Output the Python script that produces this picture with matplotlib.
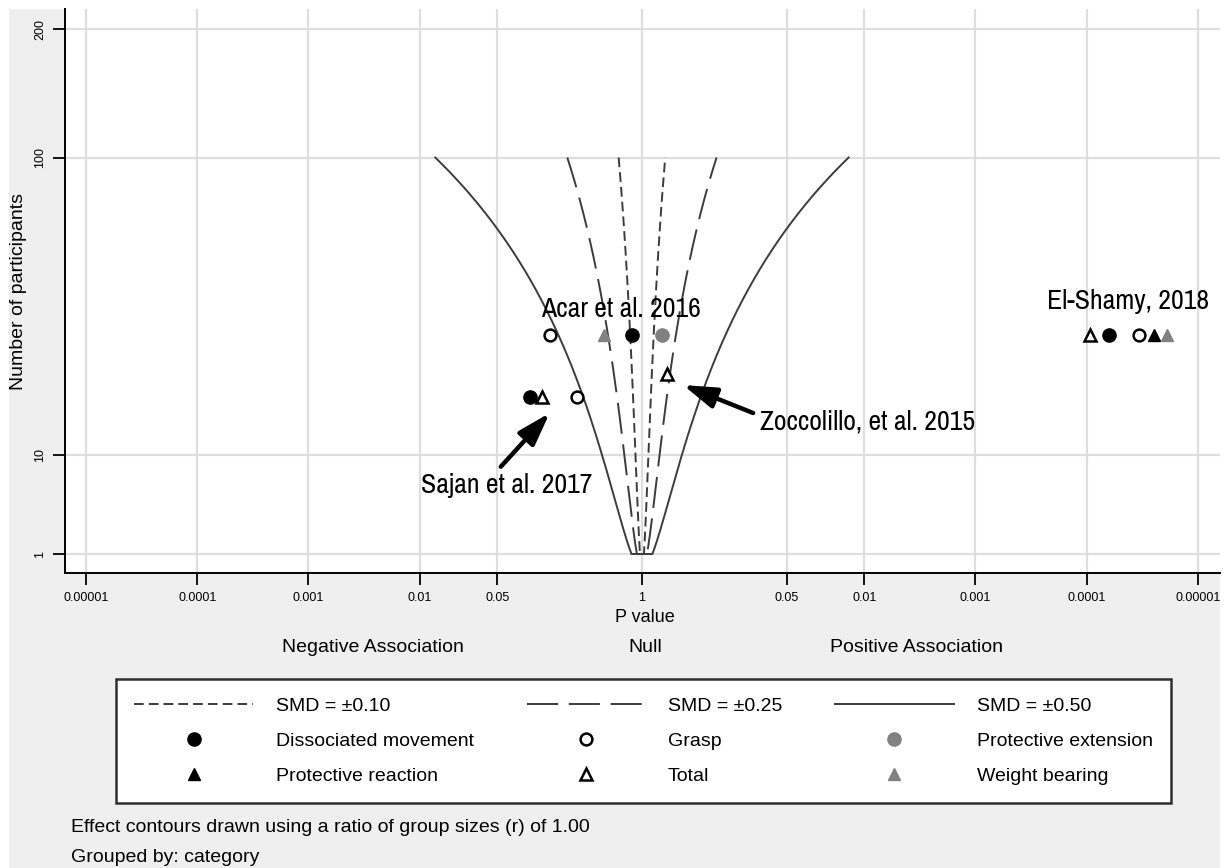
import math

import matplotlib
matplotlib.use('Agg')
import matplotlib.pyplot as plt
import numpy as np
from matplotlib import font_manager
from matplotlib.lines import Line2D
from matplotlib.patches import Rectangle

# effect contours (standardised mean difference) and group size ratio r = 1
smd_levels = [0.10, 0.25, 0.50]
n_min, n_max = 1, 100

# studies: p value, direction (-1 negative, +1 positive association), participants
dissoc_p = [0.81, 0.098, 0.000063]
dissoc_dir = [-1, -1, 1]
dissoc_n = [30, 18, 30]

grasp_p = [0.15, 0.26, 0.000034]
grasp_dir = [-1, -1, 1]
grasp_n = [30, 18, 30]

protext_p = [0.66]
protext_dir = [1]
protext_n = [30]

protreact_p = [0.000025]
protreact_dir = [1]
protreact_n = [30]

total_p = [0.60, 0.125, 0.000093]
total_dir = [1, -1, 1]
total_n = [22, 18, 30]

weight_p = [0.455, 0.000019]
weight_dir = [-1, 1]
weight_n = [30, 30]

x_tick_p = [0.00001, 0.0001, 0.001, 0.01, 0.05, 1, 0.05, 0.01, 0.001, 0.0001, 0.00001]
x_tick_dir = [-1, -1, -1, -1, -1, 0, 1, 1, 1, 1, 1]
x_tick_labels = ['0.00001', '0.0001', '0.001', '0.01', '0.05', '1',
                 '0.05', '0.01', '0.001', '0.0001', '0.00001']
y_ticks = [1, 10, 100, 200]

fonts = font_manager.fontManager.ttflist
names = {f.name for f in fonts}
SANS = 'Liberation Sans' if 'Liberation Sans' in names else 'DejaVu Sans'
NARROW, STRETCH = SANS, 'normal'
narrow_names = sorted(n for n in names if 'Narrow' in n or 'Condensed' in n)
if narrow_names:
    NARROW = narrow_names[0]
elif any(f.name == 'DejaVu Sans' and 'condensed' in str(f.stretch).lower() for f in fonts):
    NARROW, STRETCH = 'DejaVu Sans', 'condensed'

GREY_BG = '#efefef'
LINE = '#3c3c3c'


def signed_x(p, d):
    return [di * -math.log10(pi) if di != 0 else 0.0 for pi, di in zip(p, d)]


# y axis of the albatross plot: stretched between the labelled ticks
_A = np.log(np.array(y_ticks, float) + 11)
_U = np.array([0, 99.5, 396.5, 525.0])


def fwd(n):
    with np.errstate(invalid='ignore', divide='ignore'):
        t = np.log(np.maximum(np.asarray(n, float), -10.999) + 11)
    u = np.interp(t, _A, _U)
    lo_slope = (_U[1] - _U[0]) / (_A[1] - _A[0])
    hi_slope = (_U[-1] - _U[-2]) / (_A[-1] - _A[-2])
    u = np.where(t < _A[0], _U[0] + (t - _A[0]) * lo_slope, u)
    u = np.where(t > _A[-1], _U[-1] + (t - _A[-1]) * hi_slope, u)
    return u


def inv(u):
    u = np.asarray(u, float)
    t = np.interp(u, _U, _A)
    lo_slope = (_A[1] - _A[0]) / (_U[1] - _U[0])
    hi_slope = (_A[-1] - _A[-2]) / (_U[-1] - _U[-2])
    t = np.where(u < _U[0], _A[0] + (u - _U[0]) * lo_slope, t)
    t = np.where(u > _U[-1], _A[-1] + (u - _U[-1]) * hi_slope, t)
    return np.exp(t) - 11


def contour(d):
    n = np.geomspace(n_min, n_max, 300)
    se = np.sqrt(4 / n + d ** 2 / (2 * n))
    z = d / se
    p = np.array([math.erfc(zi / math.sqrt(2)) for zi in z])
    x = -np.log10(p)
    return np.concatenate([-x[::-1], x]), np.concatenate([n[::-1], n])


fig = plt.figure(figsize=(12.28, 8.68), dpi=100)
fig.patches.append(Rectangle((9 / 1228, 0), (1220 - 9) / 1228, 1 - 9 / 868,
                             transform=fig.transFigure, facecolor=GREY_BG,
                             edgecolor='none', zorder=-5))
ax = fig.add_axes([65 / 1228, 1 - 573 / 868, (1220 - 65) / 1228, (573 - 9) / 868])
ax.set_facecolor('white')
ax.set_yscale('function', functions=(fwd, inv))

smd_styles = {0.10: (0, (5, 2.6)), 0.25: (0, (16, 5.5)), 0.50: '-'}
for d in smd_levels:
    cx, cy = contour(d)
    ax.plot(cx, cy, color=LINE, lw=1.4, ls=smd_styles[d], zorder=2)

cat_styles = {
    'Dissociated movement': dict(marker='o', ms=9.5, mfc='black', mec='black', mew=1),
    'Grasp': dict(marker='o', ms=8.5, mfc='white', mec='black', mew=1.8),
    'Protective extension': dict(marker='o', ms=9.5, mfc='#818181', mec='#818181', mew=1),
    'Protective reaction': dict(marker='^', ms=9, mfc='black', mec='black', mew=1),
    'Total': dict(marker='^', ms=8.5, mfc='white', mec='black', mew=1.8),
    'Weight bearing': dict(marker='^', ms=9, mfc='#818181', mec='#818181', mew=1),
}
series = [
    ('Dissociated movement', dissoc_p, dissoc_dir, dissoc_n),
    ('Grasp', grasp_p, grasp_dir, grasp_n),
    ('Protective extension', protext_p, protext_dir, protext_n),
    ('Protective reaction', protreact_p, protreact_dir, protreact_n),
    ('Total', total_p, total_dir, total_n),
    ('Weight bearing', weight_p, weight_dir, weight_n),
]
for name, p, dr, n in series:
    ax.plot(signed_x(p, dr), n, ls='none', zorder=3, **cat_styles[name])

# study labels and arrows
lab = dict(fontsize=20, family=NARROW, fontstretch=STRETCH, color='black', zorder=4)
study_labels = [
    ax.text(-0.19, 34.5, 'Acar et al. 2016', ha='center', va='baseline', **lab),
    ax.text(4.37, 36.5, 'El-Shamy, 2018', ha='center', va='baseline', **lab),
    ax.text(1.06, 13.1, 'Zoccolillo, et al. 2015', ha='left', va='baseline', **lab),
    ax.text(-1.99, 5.9, 'Sajan et al. 2017', ha='left', va='baseline', **lab),
]
# shrink the label size when no narrow face is at hand, so widths still match
renderer = fig.canvas.get_renderer()
sajan_w = study_labels[3].get_window_extent(renderer).width
if sajan_w > 176:
    for t in study_labels:
        t.set_fontsize(20 * 174 / sajan_w)

arrow = dict(arrowstyle='-|>,head_length=1.0,head_width=0.32', lw=3.2,
             color='black', shrinkA=0, shrinkB=0, mutation_scale=20)
ax.annotate('', xy=(-0.83, 15.5), xytext=(-1.27, 8.6), arrowprops=arrow, zorder=4)
ax.annotate('', xy=(0.37, 20), xytext=(1.0, 15.5), arrowprops=arrow, zorder=4)

ax.set_xlim(-5.19, 5.2)
ax.set_ylim(float(inv(-19)), float(inv(545)))
ax.set_xticks(signed_x(x_tick_p, x_tick_dir))
ax.set_xticklabels(x_tick_labels, fontsize=9, family=SANS)
ax.set_yticks(y_ticks)
ax.set_yticklabels([str(v) for v in y_ticks], fontsize=9, family=SANS,
                   rotation=90, va='center')
ax.yaxis.set_minor_locator(matplotlib.ticker.NullLocator())
ax.tick_params(length=8.5, width=1.3, pad=5, colors='black')
ax.grid(True, color='#dedede', lw=1.6, zorder=0)
ax.set_axisbelow(True)
for s in ('top', 'right'):
    ax.spines[s].set_visible(False)
for s in ('left', 'bottom'):
    ax.spines[s].set_linewidth(1.4)

ax.set_ylabel('Number of participants', fontsize=14, family=SANS, labelpad=5)
fig.text(645 / 1228, 1 - 618 / 868, 'P value', ha='center', va='center',
         fontsize=13, family=SANS)
for xpos, txt in [(373, 'Negative Association'), (645, 'Null'),
                  (916, 'Positive Association')]:
    fig.text(xpos / 1228, 1 - 648 / 868, txt, ha='center', va='center',
             fontsize=14, family=SANS)

# legend
leg_handles = [
    Line2D([], [], color=LINE, lw=1.4, ls=smd_styles[0.10]),
    Line2D([], [], ls='none', **cat_styles['Dissociated movement']),
    Line2D([], [], ls='none', **cat_styles['Protective reaction']),
    Line2D([], [], color=LINE, lw=1.4, ls=smd_styles[0.25]),
    Line2D([], [], ls='none', **cat_styles['Grasp']),
    Line2D([], [], ls='none', **cat_styles['Total']),
    Line2D([], [], color=LINE, lw=1.4, ls=smd_styles[0.50]),
    Line2D([], [], ls='none', **cat_styles['Protective extension']),
    Line2D([], [], ls='none', **cat_styles['Weight bearing']),
]
leg_labels = ['SMD = \u00b10.10', 'Dissociated movement', 'Protective reaction',
              'SMD = \u00b10.25', 'Grasp', 'Total',
              'SMD = \u00b10.50', 'Protective extension', 'Weight bearing']
leg = fig.legend(leg_handles, leg_labels, ncol=3, loc='upper left',
                 bbox_to_anchor=(116 / 1228, 1 - 679 / 868), borderaxespad=0,
                 prop=dict(family=SANS, size=14), handlelength=6.1,
                 handletextpad=1.18, columnspacing=2.7, labelspacing=0.88,
                 borderpad=0.95, fancybox=False, framealpha=1,
                 edgecolor='#2e2e2e', facecolor='white')
leg.get_frame().set_linewidth(1.8)

fig.text(71 / 1228, 1 - 827 / 868,
         'Effect contours drawn using a ratio of group sizes (r) of 1.00',
         ha='left', va='center', fontsize=14, family=SANS)
fig.text(71 / 1228, 1 - 857 / 868, 'Grouped by: category',
         ha='left', va='center', fontsize=14, family=SANS)

fig.savefig('out.png', dpi=100, facecolor='white')
